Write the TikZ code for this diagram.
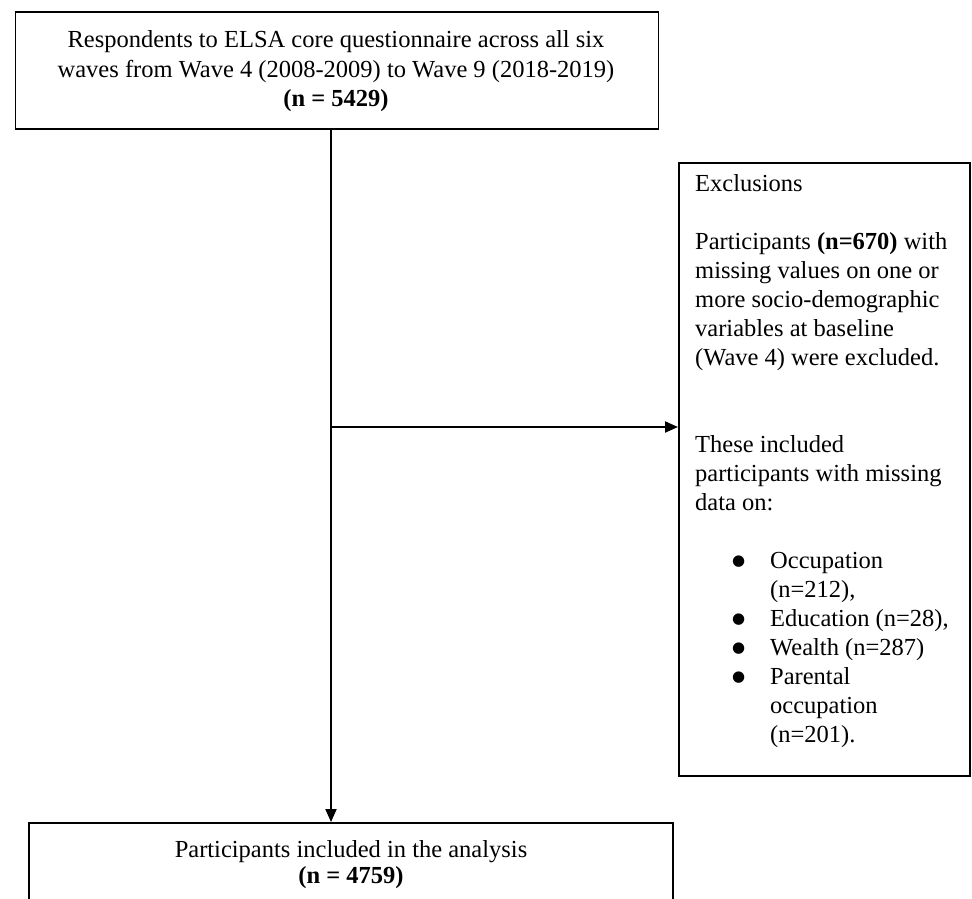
\documentclass[tikz,border=0pt]{standalone}
\usepackage{fontspec}
\setmainfont{Liberation Serif}
\newfontfamily\symfont{DejaVu Sans}
\usetikzlibrary{arrows.meta}
\newcommand{\mybul}{\raisebox{2.5pt}{\symfont\fontsize{15pt}{15pt}\selectfont ●}}
\tikzset{
  boxnode/.style={draw=black, line width=1.9pt, inner sep=0pt, fill=white},
  txt/.style={font=\fontsize{24.5pt}{29.5pt}\selectfont, inner sep=0pt, align=center},
  arr/.style={line width=1.9pt, -{Triangle[length=13pt,width=11pt]}}
}
\begin{document}
\begin{tikzpicture}[x=1pt,y=-1pt]
\useasboundingbox (0,0) rectangle (972,898);
\clip (0,0) rectangle (972,898);
\fill[white] (0,0) rectangle (972,898);
% top box
\node[boxnode, minimum width=643pt, minimum height=117pt] (topbox) at (337,70.5) {};
\node[txt] (toptext) at (336,71.5) {Respondents to ELSA core questionnaire across all six\\ waves from Wave 4 (2008-2009) to Wave 9 (2018-2019)\\ \textbf{(n = 5429)}};
% exclusions box
\node[boxnode, minimum width=291pt, minimum height=613pt, anchor=north west] (excl) at (678,162) {};
\node[anchor=base west, inner sep=0pt, font=\fontsize{24.5pt}{29pt}\selectfont] (excltext) at (695,191)
 {\parbox[t]{290pt}{\raggedright\baselineskip=29pt
 Exclusions\\
 \mbox{}\\
 Participants \textbf{(n=670)} with\\
 missing values on one or\\
 more socio-demographic\\
 variables at baseline\\
 (Wave 4) were excluded.\\
 \mbox{}\\
 \mbox{}\\
 These included\\
 participants with missing\\
 data on:\\
 \mbox{}\\
 \hspace*{37pt}\makebox[38pt][l]{\mybul}Occupation\\
 \hspace*{75pt}(n=212),\\
 \hspace*{37pt}\makebox[38pt][l]{\mybul}Education (n=28),\\
 \hspace*{37pt}\makebox[38pt][l]{\mybul}Wealth (n=287)\\
 \hspace*{37pt}\makebox[38pt][l]{\mybul}Parental\\
 \hspace*{75pt}occupation\\
 \hspace*{75pt}(n=201).}};
% bottom box
\node[boxnode, minimum width=644pt, minimum height=84pt] (botbox) at (351,865) {};
\node[txt, font=\fontsize{24.5pt}{26pt}\selectfont] (bottext) at (351,865) {Participants included in the analysis\\ \textbf{(n = 4759)}};
% connectors
\coordinate (split) at (331,427);
\draw[arr] (topbox.south -| split) -- (botbox.north -| split);
\draw[arr] (split) -- (split -| excl.west);
\end{tikzpicture}
\end{document}
